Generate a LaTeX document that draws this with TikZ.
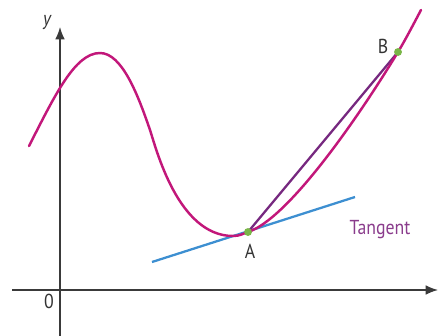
\documentclass[tikz,border=0pt]{standalone}
\usepackage{fontspec}
\setmainfont{PT Sans}
\usetikzlibrary{arrows.meta}
\definecolor{curvec}{HTML}{C2177A}
\definecolor{chordc}{HTML}{76287F}
\definecolor{tangc}{HTML}{3D8FD1}
\definecolor{ptc}{HTML}{7AB648}
\definecolor{axc}{HTML}{3A3A3A}
\definecolor{txtc}{HTML}{333333}
\definecolor{tangtxt}{HTML}{8A3C8C}
\tikzset{
  axis/.style={draw=axc, line width=0.75pt, -{Latex[length=7pt,width=5.5pt]}},
  lbl/.style={text=txtc, font=\fontsize{11.5}{13}\selectfont, inner sep=0pt, xscale=0.88, transform shape},
  dot/.style={circle, fill=ptc, inner sep=0pt, minimum size=4.5pt},
}
\begin{document}
\begin{tikzpicture}[x=0.02cm, y=-0.02cm]
\useasboundingbox (0,0) rectangle (439,335);
% axes
\coordinate (xs) at (12,290);
\coordinate (xe) at (438,290);
\coordinate (ys) at (60,336);
\coordinate (ye) at (60,27);
\draw[axis] (xs) -- (xe);
\draw[axis] (ys) -- (ye);
\node[lbl, font=\fontsize{11.5}{13}\selectfont\itshape] (ylab) at (47,23) {y};
\node[lbl] (olab) at (49,301) {0};
\node[lbl, font=\fontsize{11.5}{13}\selectfont\itshape] (xlab) at (444,302) {x};
% points
\coordinate (A) at (248,232);
\coordinate (B) at (398,52);
% tangent
\coordinate (t1) at (152,262);
\coordinate (t2) at (355,197);
\draw[tangc, line width=1.3pt] (t1) -- (t2);
% chord
\draw[chordc, line width=1.3pt] (A) -- (B);
% curve
\draw[curvec, line width=1.4pt, line cap=round]
  (29,146) .. controls (55,95) and (75,53) .. (100,53)
  .. controls (122,53) and (138,95) .. (150,130)
  .. controls (156,148) and (178,236) .. (233,236)
  .. controls (240,236) and (243,233.6) .. (A)
  .. controls (288,219) and (358,118) .. (B)
  .. controls (406,38.7) and (413,25) .. (421,10);
\node[dot] (Ad) at (A) {};
\node[dot] (Bd) at (B) {};
\node[lbl] (Alab) at (250,251) {A};
\node[lbl] (Blab) at (383,46) {B};
\node[lbl, text=tangtxt] (tlab) at (380,230) {Tangent};
\end{tikzpicture}
\end{document}
